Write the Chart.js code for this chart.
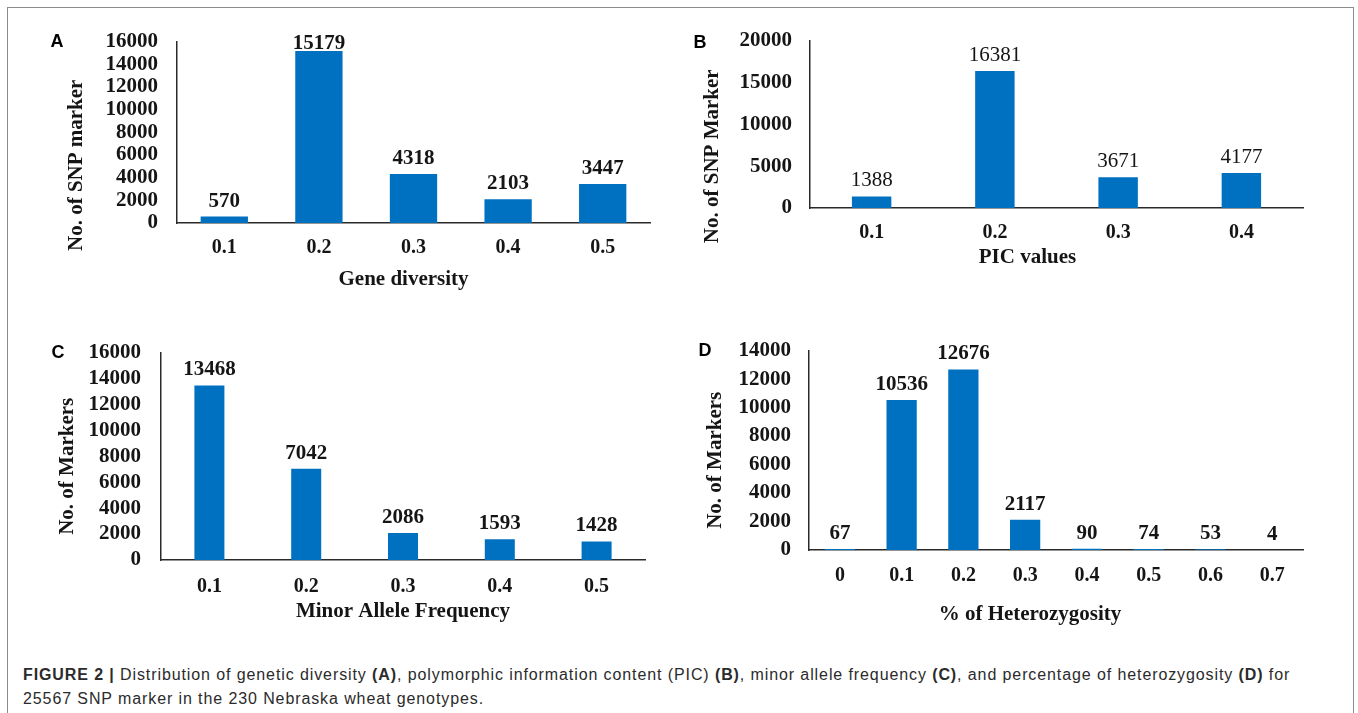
<!DOCTYPE html>
<html>
<head>
<meta charset="utf-8">
<script src="https://cdn.jsdelivr.net/npm/chart.js@4.4.1/dist/chart.umd.min.js"></script>
<style>
body { margin: 0; background: #fff; width: 1358px; height: 713px; overflow: hidden; position: relative; }
#frame { position: absolute; left: 7px; top: 7px; width: 1347px; height: 730px; border: 1.5px solid #8c8c8c; box-sizing: border-box; }
canvas { position: absolute; }
#caption { position: absolute; left: 23px; top: 663px; font-family: 'Liberation Sans', Arial, sans-serif; font-size: 16px; letter-spacing: 0.9px; line-height: 24px; color: #2b2b2b; white-space: nowrap; }
</style>
</head>
<body>
<div id="frame"></div>
<canvas id="chartA" width="660" height="300" style="left:10px;top:10px"></canvas>
<canvas id="chartB" width="660" height="300" style="left:680px;top:10px"></canvas>
<canvas id="chartC" width="660" height="310" style="left:10px;top:320px"></canvas>
<canvas id="chartD" width="660" height="310" style="left:680px;top:320px"></canvas>
<div id="caption"><b>FIGURE 2 |</b> Distribution of genetic diversity <b>(A)</b>, polymorphic information content (PIC) <b>(B)</b>, minor allele frequency <b>(C)</b>, and percentage of heterozygosity <b>(D)</b> for<br>25567 SNP marker in the 230 Nebraska wheat genotypes.</div>
<script>
// values
const geneDiversityBins = ['0.1', '0.2', '0.3', '0.4', '0.5'];
const geneDiversityCounts = [570, 15179, 4318, 2103, 3447];
const geneDiversityAxis = { max: 16000, step: 2000 };

const picBins = ['0.1', '0.2', '0.3', '0.4'];
const picCounts = [1388, 16381, 3671, 4177];
const picAxis = { max: 20000, step: 5000 };

const mafBins = ['0.1', '0.2', '0.3', '0.4', '0.5'];
const mafCounts = [13468, 7042, 2086, 1593, 1428];
const mafAxis = { max: 16000, step: 2000 };

const hetBins = ['0', '0.1', '0.2', '0.3', '0.4', '0.5', '0.6', '0.7'];
const hetCounts = [67, 10536, 12676, 2117, 90, 74, 53, 4];
const hetAxis = { max: 14000, step: 2000 };

const BLUE = '#0070c0';
const INK = '#151515';
const SERIF = "'Liberation Serif', 'Times New Roman', serif";

Chart.defaults.font.family = SERIF;
Chart.defaults.color = INK;

// draws letter, axis titles and value labels
const panelText = {
    id: 'panelText',
    afterDatasetsDraw(chart, args, o) {
        const ctx = chart.ctx;
        const a = chart.chartArea;
        ctx.save();
        ctx.fillStyle = INK;

        // value labels
        ctx.font = o.labelWeight + ' 21px ' + SERIF;
        ctx.textAlign = 'center';
        ctx.textBaseline = 'alphabetic';
        const meta = chart.getDatasetMeta(0);
        meta.data.forEach((bar, i) => {
            const v = chart.data.datasets[0].data[i];
            const y = Math.max(bar.y - 10, a.top + 7);
            ctx.fillText(String(v), bar.x, y);
        });

        // x title
        ctx.font = 'bold 21px ' + SERIF;
        ctx.textBaseline = 'middle';
        ctx.fillText(o.xTitle, (a.left + a.right) / 2 + o.xDx, a.bottom + o.xDy);

        // y title
        ctx.save();
        ctx.translate(a.left - o.yDx, (a.top + a.bottom) / 2 + o.yDy);
        ctx.rotate(-Math.PI / 2);
        ctx.fillText(o.yTitle, 0, 0);
        ctx.restore();

        // panel letter
        ctx.font = "bold 18px 'Liberation Sans', Arial, sans-serif";
        ctx.fillStyle = '#000';
        ctx.fillText(o.letter, a.left - o.letterDx, a.top + o.letterDy);
        ctx.restore();
    }
};

function makePanel(id, bins, counts, axis, opt) {
    const canvas = document.getElementById(id);
    new Chart(canvas, {
        type: 'bar',
        data: {
            labels: bins,
            datasets: [{
                data: counts,
                backgroundColor: BLUE,
                borderWidth: 0,
                categoryPercentage: 1,
                barPercentage: opt.barPct
            }]
        },
        options: {
            responsive: false,
            animation: false,
            layout: { padding: { left: 0, top: opt.area.top, right: canvas.width - opt.area.right, bottom: 0 } },
            plugins: {
                legend: { display: false },
                tooltip: { enabled: false },
                panelText: opt.text
            },
            scales: {
                x: {
                    grid: { display: false, drawTicks: false },
                    border: { display: true, color: '#2a2a2a', width: 1.5 },
                    ticks: { font: { size: 20, weight: 'bold' }, padding: opt.xPad, color: INK, autoSkip: false, maxRotation: 0 },
                    afterFit: s => { s.height = canvas.height - opt.area.bottom; }
                },
                y: {
                    min: 0,
                    max: axis.max,
                    grid: { display: false, drawTicks: false },
                    border: { display: true, color: '#2a2a2a', width: 1.5 },
                    ticks: {
                        stepSize: axis.step,
                        autoSkip: false,
                        font: { size: 21, weight: 'bold' },
                        padding: opt.yPad,
                        color: INK,
                        callback: v => String(v)
                    },
                    afterFit: s => { s.width = opt.area.left; }
                }
            }
        },
        plugins: [panelText]
    });
}

makePanel('chartA', geneDiversityBins, geneDiversityCounts, geneDiversityAxis, {
    area: { left: 167, top: 28, right: 640, bottom: 213 },
    barPct: 0.5, xPad: 13, yPad: 19,
    text: { letter: 'A', letterDx: 120, letterDy: 0, labelWeight: 'bold',
            xTitle: 'Gene diversity', xDx: -10, xDy: 57,
            yTitle: 'No. of SNP marker', yDx: 100, yDy: 33 }
});

makePanel('chartB', picBins, picCounts, picAxis, {
    area: { left: 130, top: 26, right: 623, bottom: 198 },
    barPct: 0.32, xPad: 13, yPad: 18,
    text: { letter: 'B', letterDx: 110, letterDy: 2, labelWeight: 'normal',
            xTitle: 'PIC values', xDx: -29, xDy: 50,
            yTitle: 'No. of SNP Marker', yDx: 97, yDy: 32 }
});

makePanel('chartC', mafBins, mafCounts, mafAxis, {
    area: { left: 151, top: 22, right: 635, bottom: 240 },
    barPct: 0.31, xPad: 15, yPad: 20,
    text: { letter: 'C', letterDx: 103, letterDy: 0, labelWeight: 'bold',
            xTitle: 'Minor Allele Frequency', xDx: 0, xDy: 52,
            yTitle: 'No. of Markers', yDx: 93, yDy: 10 }
});

makePanel('chartD', hetBins, hetCounts, hetAxis, {
    area: { left: 129, top: 22, right: 623, bottom: 230 },
    barPct: 0.49, xPad: 14, yPad: 18,
    text: { letter: 'D', letterDx: 104, letterDy: 0, labelWeight: 'bold',
            xTitle: '% of Heterozygosity', xDx: -26, xDy: 65,
            yTitle: 'No. of Markers', yDx: 93, yDy: 10 }
});
</script>
</body>
</html>
